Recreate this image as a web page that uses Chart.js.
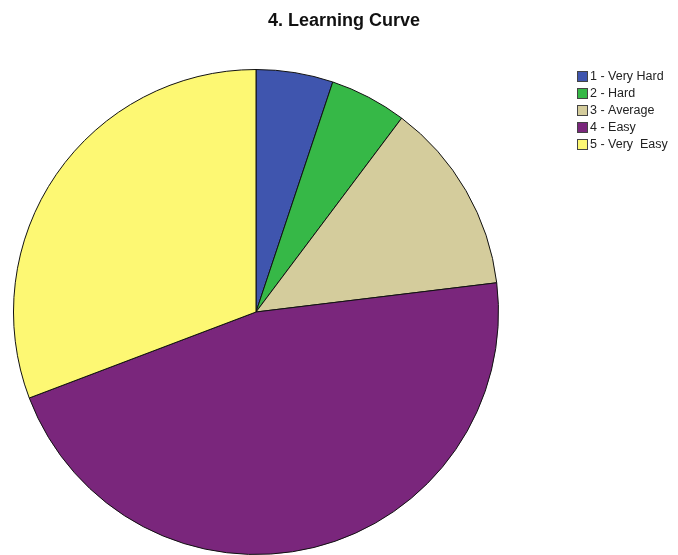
<!DOCTYPE html>
<html>
<head>
<meta charset="utf-8">
<script src="https://cdn.jsdelivr.net/npm/chart.js@4"></script>
<style>
  html, body { margin: 0; padding: 0; background: #fff; }
  #wrap { width: 678px; height: 555px; }
</style>
</head>
<body>
<div id="wrap"><canvas id="myChart" width="678" height="555"></canvas></div>
<script>
const chartTitle = "4. Learning Curve"
const categories = ["1 - Very Hard", "2 - Hard", "3 - Average", "4 - Easy", "5 - Very  Easy"]
const counts = [2, 2, 5, 18, 12]
const sliceColors = ["#3F55AE", "#36B847", "#D4CC9C", "#7A267C", "#FDF873"]

// title + legend drawn by hand so they sit where the original has them
const sideLegend = {
  id: "sideLegend",
  afterDraw(chart) {
    const c = chart.ctx
    c.save()
    c.fillStyle = "#111"
    c.font = "bold 18px 'Liberation Sans', Arial, sans-serif"
    c.textAlign = "center"
    c.textBaseline = "middle"
    c.fillText(chartTitle, 344, 21)

    c.font = "12.5px 'Liberation Sans', Arial, sans-serif"
    c.textAlign = "left"
    categories.forEach((lab, i) => {
      const y = 76 + i * 17
      c.fillStyle = sliceColors[i]
      c.fillRect(577, y - 5, 10, 10)
      c.strokeStyle = "#444"
      c.lineWidth = 1
      c.strokeRect(577.5, y - 4.5, 10, 10)
      c.fillStyle = "#222"
      c.fillText(lab, 590, y + 1)
    })
    c.restore()
  }
}

const ctx = document.getElementById("myChart")
new Chart(ctx, {
  type: "pie",
  data: {
    labels: categories,
    datasets: [{
      data: counts,
      backgroundColor: sliceColors,
      borderColor: "#111",
      borderWidth: 1
    }]
  },
  options: {
    responsive: false,
    animation: false,
    layout: { padding: { top: 69, left: 13, right: 179, bottom: 0 } },
    plugins: {
      legend: { display: false },
      title: { display: false },
      tooltip: { enabled: false }
    }
  },
  plugins: [sideLegend]
})
</script>
</body>
</html>
